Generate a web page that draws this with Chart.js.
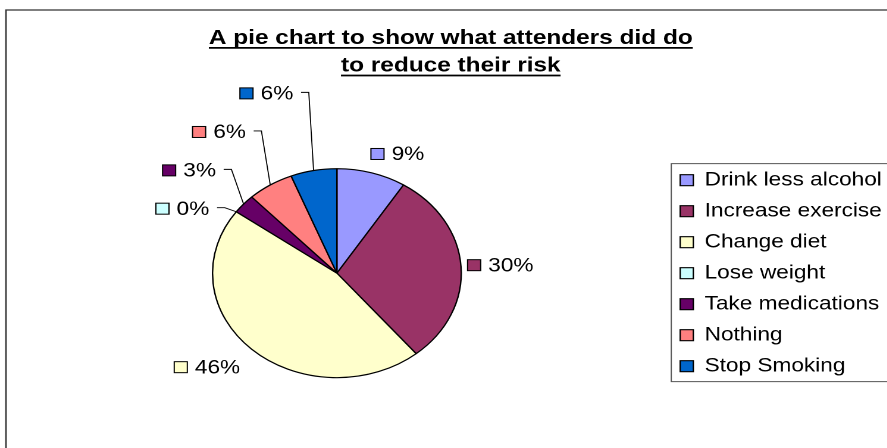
<!DOCTYPE html>
<html><head><meta charset="utf-8">
<script src="https://cdn.jsdelivr.net/npm/chart.js@4.4.1/dist/chart.umd.min.js"></script>
<style>
html,body{margin:0;padding:0;background:#fff;overflow:hidden;}
#clip{position:absolute;left:0;top:0;width:887px;height:448px;overflow:hidden;background:#fff;}
#wrap{position:absolute;left:0;top:0;width:751px;height:448px;transform:scaleX(1.19);transform-origin:0 0;}
canvas{display:block;}
</style></head><body>
<div id="clip"><div id="wrap"><canvas id="c"></canvas></div></div>
<script>
// ---- data ----
const categories = ['Drink less alcohol','Increase exercise','Change diet','Lose weight','Take medications','Nothing','Stop Smoking'];
const percentages = [9, 30, 46, 0, 3, 6, 6];
const titleLines = ['A pie chart to show what attenders did do', 'to reduce their risk'];

// ---- styles / layout ----
const sliceColors = ['#9999FF','#993366','#FFFFCC','#CCFFFF','#660066','#FF8080','#0066CC'];
const FONT_FAMILY = '"Liberation Sans", Arial, Helvetica, sans-serif';
const LABEL_SIZE = 19;
// label placement relative to pie centre: [dx of marker box left, dy of label centre]
const labelOffsets = [[28.6,-119.2],[109.8,-8],[-136.7,94],[-152.1,-64.5],[-146.5,-102.8],[-121.3,-141.2],[-81.5,-179.8]];
const leaderLines = [false,false,false,true,true,true,true];
const TITLE_PAD_TOP = 24.5, TITLE_PAD_BOTTOM = 18.5, TITLE_LH = 1.35, TITLE_SIZE = 20.5;

const decor = {
  id: 'decor',
  beforeDraw(chart) {
    const ctx = chart.ctx;
    ctx.save();
    ctx.fillStyle = '#fff';
    ctx.fillRect(0, 0, chart.width, chart.height);
    ctx.strokeStyle = '#333';
    ctx.lineWidth = 1.3;
    ctx.beginPath();
    ctx.moveTo(5, chart.height + 20);
    ctx.lineTo(5, 10);
    ctx.lineTo(chart.width + 20, 10);
    ctx.stroke();
    ctx.restore();
  },
  afterDraw(chart) {
    const ctx = chart.ctx;
    ctx.save();
    // title underlines
    const tb = chart.titleBlock;
    const lh = TITLE_SIZE * TITLE_LH;
    ctx.font = 'bold ' + TITLE_SIZE + 'px ' + FONT_FAMILY;
    ctx.strokeStyle = '#000';
    ctx.lineWidth = 1.8;
    const cx = tb.left + tb.width / 2;
    titleLines.forEach((t, i) => {
      const w = ctx.measureText(t).width;
      const y = tb.top + TITLE_PAD_TOP + lh * (i + 0.5) + 9.5;
      ctx.beginPath();
      ctx.moveTo(cx - w / 2, y);
      ctx.lineTo(cx + w / 2, y);
      ctx.stroke();
    });
    // legend frame (open to the right, like the cropped original)
    const hb = chart.legend.legendHitBoxes;
    if (hb && hb.length) {
      const first = hb[0], last = hb[hb.length - 1];
      const l = first.left - 7.5, t = first.top - 7, b = last.top + last.height + 6;
      ctx.strokeStyle = '#555';
      ctx.lineWidth = 1;
      ctx.beginPath();
      ctx.moveTo(chart.width + 20, t);
      ctx.lineTo(l, t);
      ctx.lineTo(l, b);
      ctx.lineTo(chart.width + 20, b);
      ctx.stroke();
    }
    // data labels
    const meta = chart.getDatasetMeta(0);
    ctx.font = LABEL_SIZE + 'px ' + FONT_FAMILY;
    ctx.textBaseline = 'middle';
    ctx.textAlign = 'left';
    meta.data.forEach((arc, i) => {
      const p = arc.getProps(['x','y','startAngle','endAngle','outerRadius'], true);
      const bx = p.x + labelOffsets[i][0];
      const cy = p.y + labelOffsets[i][1];
      ctx.fillStyle = sliceColors[i];
      ctx.fillRect(bx, cy - 5.5, 11, 11);
      ctx.strokeStyle = '#000';
      ctx.lineWidth = 1;
      ctx.strokeRect(bx, cy - 5.5, 11, 11);
      const txt = percentages[i] + '%';
      ctx.fillStyle = '#000';
      ctx.fillText(txt, bx + 17.4, cy + 1);
      if (leaderLines[i]) {
        const te = bx + 17.4 + ctx.measureText(txt).width;
        const mid = (p.startAngle + p.endAngle) / 2;
        const ex = p.x + p.outerRadius * Math.cos(mid);
        const ey = p.y + p.outerRadius * Math.sin(mid);
        ctx.beginPath();
        ctx.moveTo(te + 6.5, cy - 1);
        ctx.lineTo(te + 13, cy - 1);
        ctx.lineTo(ex, ey);
        ctx.strokeStyle = '#000';
        ctx.lineWidth = 0.9;
        ctx.stroke();
      }
    });
    ctx.restore();
  }
};

new Chart(document.getElementById('c'), {
  type: 'pie',
  data: {
    labels: categories,
    datasets: [{
      data: percentages,
      backgroundColor: sliceColors,
      borderColor: '#000',
      borderWidth: 1.2,
      radius: 104.5
    }]
  },
  options: {
    responsive: true,
    maintainAspectRatio: false,
    devicePixelRatio: 2,
    animation: false,
    layout: { padding: { left: 6.6, right: 0, top: 0, bottom: 0 } },
    plugins: {
      tooltip: { enabled: false },
      title: {
        display: true,
        text: titleLines,
        color: '#000',
        font: { family: FONT_FAMILY, size: TITLE_SIZE, weight: 'bold', lineHeight: TITLE_LH },
        padding: { top: TITLE_PAD_TOP, bottom: TITLE_PAD_BOTTOM }
      },
      legend: {
        position: 'right',
        fullSize: false,
        labels: {
          color: '#000',
          boxWidth: 11,
          boxHeight: 11,
          padding: 12,
          font: { family: FONT_FAMILY, size: LABEL_SIZE }
        }
      }
    }
  },
  plugins: [decor]
});
</script>
</body></html>
